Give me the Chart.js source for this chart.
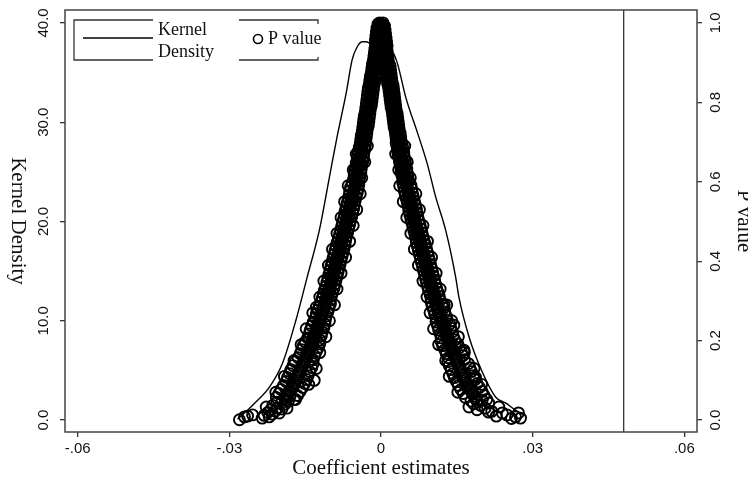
<!DOCTYPE html>
<html>
<head>
<meta charset="utf-8">
<script src="https://cdn.jsdelivr.net/npm/chart.js@4.4.0/dist/chart.umd.min.js"></script>
<style>
  html, body { margin: 0; padding: 0; background: #fff; }
  #wrap { width: 748px; height: 486px; }
</style>
</head>
<body>
<div id="wrap"><canvas id="chart"></canvas></div>
<script>
// Kernel density of the coefficient estimates (left axis)
const kdeX = [-0.0284, -0.0264, -0.0250, -0.0221, -0.0195, -0.0168, -0.0146, -0.0122, -0.0103, -0.0087,
              -0.0069, -0.0057, -0.0047, -0.0037, -0.0030, -0.0020, -0.0008, 0.0006, 0.0020, 0.0032,
              0.0049, 0.0073, 0.0091, 0.0108, 0.0128, 0.0148, 0.0154, 0.0174, 0.0199, 0.0227,
              0.0247, 0.0266, 0.0284];
const kdeY = [0.1, 1.0, 1.7, 3.3, 5.7, 10.1, 14.4, 19.1, 24.2, 28.5,
              32.9, 36.3, 37.6, 38.1, 38.1, 37.9, 37.6, 37.5, 37.3, 36.0,
              32.5, 28.8, 25.9, 22.5, 19.1, 14.3, 12.4, 8.4, 5.0, 2.3,
              1.7, 1.0, 0.5];

// P values against coefficient estimates (right axis): [coef, p]
// left branch: middle of the band, its outer and inner edge
const pLeftCore = [
  [-0.0003,1.000],[-0.0004,0.995],[-0.0004,0.990],[-0.0005,0.985],[-0.0005,0.980],[-0.0006,0.975],[-0.0006,0.970],[-0.0007,0.965],
  [-0.0007,0.960],[-0.0008,0.955],[-0.0008,0.950],[-0.0009,0.945],[-0.0009,0.940],[-0.0010,0.935],[-0.0009,0.930],[-0.0011,0.925],
  [-0.0010,0.920],[-0.0012,0.915],[-0.0011,0.910],[-0.0013,0.905],[-0.0012,0.900],[-0.0014,0.895],[-0.0013,0.890],[-0.0015,0.885],
  [-0.0014,0.880],[-0.0016,0.875],[-0.0015,0.870],[-0.0017,0.865],[-0.0016,0.860],[-0.0018,0.855],[-0.0017,0.850],[-0.0019,0.845],
  [-0.0019,0.840],[-0.0020,0.835],[-0.0020,0.830],[-0.0021,0.825],[-0.0021,0.820],[-0.0022,0.815],[-0.0022,0.810],[-0.0023,0.805],
  [-0.0023,0.800],[-0.0024,0.795],[-0.0024,0.790],[-0.0026,0.785],[-0.0026,0.780],[-0.0027,0.775],[-0.0027,0.770],[-0.0029,0.765],
  [-0.0028,0.760],[-0.0030,0.755],[-0.0029,0.750],[-0.0031,0.745],[-0.0030,0.740],[-0.0032,0.735],[-0.0031,0.730],[-0.0034,0.725],
  [-0.0033,0.720],[-0.0035,0.715],[-0.0034,0.710],[-0.0036,0.705],[-0.0035,0.700],[-0.0037,0.695],[-0.0037,0.690],[-0.0039,0.685],
  [-0.0038,0.680],[-0.0040,0.675],[-0.0039,0.670],[-0.0041,0.665],[-0.0041,0.660],[-0.0043,0.655],[-0.0042,0.650],[-0.0044,0.645],
  [-0.0044,0.640],[-0.0046,0.635],[-0.0045,0.630],[-0.0047,0.625],[-0.0046,0.620],[-0.0048,0.615],[-0.0048,0.610],[-0.0050,0.605],
  [-0.0049,0.600],[-0.0051,0.595],[-0.0051,0.590],[-0.0053,0.585],[-0.0053,0.580],[-0.0055,0.575],[-0.0055,0.570],[-0.0057,0.565],
  [-0.0056,0.560],[-0.0059,0.555],[-0.0058,0.550],[-0.0061,0.545],[-0.0060,0.540],[-0.0063,0.535],[-0.0062,0.530],[-0.0064,0.525],
  [-0.0064,0.520],[-0.0066,0.515],[-0.0065,0.510],[-0.0068,0.505],[-0.0067,0.500],[-0.0070,0.495],[-0.0069,0.490],[-0.0072,0.485],
  [-0.0071,0.480],[-0.0074,0.475],[-0.0073,0.470],[-0.0076,0.465],[-0.0075,0.460],[-0.0078,0.455],[-0.0077,0.450],[-0.0080,0.445],
  [-0.0079,0.440],[-0.0082,0.435],[-0.0081,0.430],[-0.0084,0.425],[-0.0083,0.420],[-0.0086,0.415],[-0.0085,0.410],[-0.0088,0.405],
  [-0.0087,0.400],[-0.0090,0.395],[-0.0089,0.390],[-0.0092,0.385],[-0.0091,0.380],[-0.0094,0.375],[-0.0094,0.370],[-0.0096,0.365],
  [-0.0096,0.360],[-0.0098,0.355],[-0.0098,0.350],[-0.0100,0.345],[-0.0100,0.340],[-0.0102,0.335],[-0.0102,0.330],[-0.0105,0.325],
  [-0.0104,0.320],[-0.0107,0.315],[-0.0106,0.310],[-0.0109,0.305],[-0.0108,0.300],[-0.0111,0.295],[-0.0111,0.290],[-0.0114,0.285],
  [-0.0113,0.280],[-0.0116,0.275],[-0.0116,0.270],[-0.0119,0.265],[-0.0118,0.260],[-0.0121,0.255],[-0.0121,0.250],[-0.0124,0.245],
  [-0.0123,0.240],[-0.0126,0.235],[-0.0126,0.230],[-0.0129,0.225],[-0.0128,0.220],[-0.0131,0.215],[-0.0131,0.210],[-0.0134,0.205],
  [-0.0133,0.200],[-0.0137,0.195],[-0.0136,0.190],[-0.0140,0.185],[-0.0140,0.180],[-0.0143,0.175],[-0.0143,0.170],[-0.0147,0.165],
  [-0.0146,0.160],[-0.0150,0.155],[-0.0150,0.150],[-0.0154,0.145],[-0.0153,0.140],[-0.0157,0.135],[-0.0157,0.130],[-0.0161,0.125],
  [-0.0160,0.120],[-0.0164,0.115],[-0.0163,0.110],[-0.0167,0.105],[-0.0167,0.100],[-0.0172,0.095],[-0.0171,0.090],[-0.0176,0.085],
  [-0.0175,0.080],[-0.0181,0.075],[-0.0180,0.070],[-0.0185,0.065],[-0.0185,0.060],[-0.0190,0.055],[-0.0189,0.050]
];
const pLeftOuter = [
  [-0.0006,0.997],[-0.0008,0.987],[-0.0009,0.977],[-0.0010,0.967],[-0.0011,0.957],[-0.0011,0.947],[-0.0012,0.937],[-0.0013,0.927],
  [-0.0014,0.917],[-0.0015,0.907],[-0.0017,0.897],[-0.0018,0.887],[-0.0019,0.877],[-0.0021,0.867],[-0.0022,0.857],[-0.0023,0.847],
  [-0.0025,0.837],[-0.0026,0.827],[-0.0027,0.817],[-0.0028,0.807],[-0.0029,0.797],[-0.0030,0.787],[-0.0031,0.777],[-0.0033,0.767],
  [-0.0034,0.757],[-0.0035,0.747],[-0.0036,0.737],[-0.0037,0.727],[-0.0039,0.717],[-0.0040,0.707],[-0.0041,0.697],[-0.0043,0.687],
  [-0.0045,0.677],[-0.0046,0.667],[-0.0047,0.657],[-0.0049,0.647],[-0.0050,0.637],[-0.0052,0.627],[-0.0053,0.617],[-0.0054,0.607],
  [-0.0057,0.597],[-0.0060,0.587],[-0.0062,0.577],[-0.0063,0.567],[-0.0065,0.557],[-0.0067,0.547],[-0.0069,0.537],[-0.0071,0.527],
  [-0.0072,0.517],[-0.0074,0.507],[-0.0076,0.497],[-0.0078,0.487],[-0.0080,0.477],[-0.0082,0.467],[-0.0084,0.457],[-0.0087,0.447],
  [-0.0089,0.437],[-0.0091,0.427],[-0.0093,0.417],[-0.0095,0.407],[-0.0097,0.397],[-0.0099,0.387],[-0.0101,0.377],[-0.0103,0.367],
  [-0.0105,0.357],[-0.0107,0.347],[-0.0109,0.337],[-0.0112,0.327],[-0.0114,0.317],[-0.0116,0.307],[-0.0119,0.297],[-0.0122,0.287],
  [-0.0125,0.277],[-0.0128,0.267],[-0.0130,0.257],[-0.0134,0.247],[-0.0137,0.237],[-0.0140,0.227],[-0.0142,0.217],[-0.0145,0.207],
  [-0.0150,0.197],[-0.0154,0.187],[-0.0157,0.177],[-0.0160,0.167],[-0.0164,0.157],[-0.0170,0.147],[-0.0174,0.137],[-0.0178,0.127],
  [-0.0181,0.117],[-0.0185,0.107],[-0.0188,0.097],[-0.0193,0.087],[-0.0198,0.077],[-0.0202,0.067],[-0.0207,0.057]
];
const pLeftInner = [
  [-0.0001,0.992],[-0.0002,0.982],[-0.0003,0.972],[-0.0004,0.962],[-0.0005,0.952],[-0.0005,0.942],[-0.0006,0.932],[-0.0007,0.922],
  [-0.0008,0.912],[-0.0009,0.902],[-0.0008,0.892],[-0.0009,0.882],[-0.0010,0.872],[-0.0011,0.862],[-0.0012,0.852],[-0.0014,0.842],
  [-0.0015,0.832],[-0.0016,0.822],[-0.0017,0.812],[-0.0018,0.802],[-0.0019,0.792],[-0.0021,0.782],[-0.0022,0.772],[-0.0023,0.762],
  [-0.0024,0.752],[-0.0025,0.742],[-0.0027,0.732],[-0.0028,0.722],[-0.0029,0.712],[-0.0030,0.702],[-0.0031,0.692],[-0.0032,0.682],
  [-0.0034,0.672],[-0.0035,0.662],[-0.0036,0.652],[-0.0038,0.642],[-0.0039,0.632],[-0.0040,0.622],[-0.0042,0.612],[-0.0043,0.602],
  [-0.0044,0.592],[-0.0045,0.582],[-0.0047,0.572],[-0.0049,0.562],[-0.0051,0.552],[-0.0053,0.542],[-0.0054,0.532],[-0.0056,0.522],
  [-0.0058,0.512],[-0.0060,0.502],[-0.0062,0.492],[-0.0064,0.482],[-0.0066,0.472],[-0.0068,0.462],[-0.0070,0.452],[-0.0071,0.442],
  [-0.0073,0.432],[-0.0075,0.422],[-0.0077,0.412],[-0.0079,0.402],[-0.0081,0.392],[-0.0083,0.382],[-0.0085,0.372],[-0.0087,0.362],
  [-0.0089,0.352],[-0.0091,0.342],[-0.0093,0.332],[-0.0096,0.322],[-0.0098,0.312],[-0.0100,0.302],[-0.0100,0.292],[-0.0103,0.282],
  [-0.0105,0.272],[-0.0108,0.262],[-0.0110,0.252],[-0.0111,0.242],[-0.0113,0.232],[-0.0116,0.222],[-0.0118,0.212],[-0.0121,0.202],
  [-0.0121,0.192],[-0.0124,0.182],[-0.0128,0.172],[-0.0131,0.162],[-0.0134,0.152],[-0.0134,0.142],[-0.0137,0.132],[-0.0141,0.122],
  [-0.0144,0.112],[-0.0147,0.102],[-0.0151,0.092],[-0.0155,0.082],[-0.0160,0.072],[-0.0165,0.062],[-0.0169,0.052]
];
const pLeftWide = [
  [-0.0027,0.69],[-0.0049,0.67],[-0.0032,0.65],[-0.0055,0.63],[-0.0038,0.61],[-0.0065,0.59],[-0.0041,0.57],[-0.0072,0.55],
  [-0.0048,0.53],[-0.0079,0.51],[-0.0055,0.49],[-0.0087,0.47],[-0.0062,0.45],[-0.0096,0.43],[-0.0070,0.41],[-0.0104,0.39],
  [-0.0079,0.37],[-0.0113,0.35],[-0.0087,0.33],[-0.0121,0.31],[-0.0092,0.29],[-0.0135,0.27],[-0.0102,0.25],[-0.0148,0.23],
  [-0.0109,0.21],[-0.0158,0.19],[-0.0121,0.17],[-0.0172,0.15],[-0.0128,0.13],[-0.0191,0.11],[-0.0143,0.09],[-0.0208,0.07]
];
// right branch: middle of the band, its outer and inner edge
const pRightCore = [
  [0.0004,1.000],[0.0003,0.995],[0.0005,0.990],[0.0004,0.985],[0.0006,0.980],[0.0005,0.975],[0.0007,0.970],[0.0006,0.965],
  [0.0008,0.960],[0.0007,0.955],[0.0009,0.950],[0.0007,0.945],[0.0010,0.940],[0.0008,0.935],[0.0010,0.930],[0.0009,0.925],
  [0.0011,0.920],[0.0010,0.915],[0.0012,0.910],[0.0011,0.905],[0.0013,0.900],[0.0012,0.895],[0.0014,0.890],[0.0013,0.885],
  [0.0015,0.880],[0.0014,0.875],[0.0016,0.870],[0.0015,0.865],[0.0017,0.860],[0.0016,0.855],[0.00185,0.850],[0.0017,0.845],
  [0.0020,0.840],[0.00185,0.835],[0.0021,0.830],[0.00195,0.825],[0.0022,0.820],[0.00205,0.815],[0.0023,0.810],[0.00215,0.805],
  [0.0024,0.800],[0.00225,0.795],[0.0025,0.790],[0.0024,0.785],[0.00265,0.780],[0.0025,0.775],[0.0028,0.770],[0.00265,0.765],
  [0.0029,0.760],[0.00275,0.755],[0.0030,0.750],[0.00285,0.745],[0.0031,0.740],[0.0030,0.735],[0.00325,0.730],[0.0031,0.725],
  [0.0034,0.720],[0.00325,0.715],[0.0035,0.710],[0.00335,0.705],[0.0036,0.700],[0.00345,0.695],[0.00375,0.690],[0.0036,0.685],
  [0.0039,0.680],[0.00375,0.675],[0.0040,0.670],[0.0039,0.665],[0.00415,0.660],[0.0040,0.655],[0.0043,0.650],[0.00415,0.645],
  [0.00445,0.640],[0.0043,0.635],[0.0046,0.630],[0.00445,0.625],[0.0047,0.620],[0.0046,0.615],[0.00485,0.610],[0.0047,0.605],
  [0.0050,0.600],[0.0049,0.595],[0.0052,0.590],[0.0051,0.585],[0.0054,0.580],[0.0053,0.575],[0.00555,0.570],[0.0054,0.565],
  [0.0057,0.560],[0.0056,0.555],[0.0059,0.550],[0.0058,0.545],[0.0061,0.540],[0.0060,0.535],[0.0063,0.530],[0.0062,0.525],
  [0.00645,0.520],[0.0063,0.515],[0.0066,0.510],[0.0065,0.505],[0.0068,0.500],[0.0067,0.495],[0.0070,0.490],[0.0069,0.485],
  [0.0072,0.480],[0.0071,0.475],[0.0074,0.470],[0.0073,0.465],[0.0076,0.460],[0.0075,0.455],[0.0078,0.450],[0.0077,0.445],
  [0.0080,0.440],[0.0079,0.435],[0.0082,0.430],[0.0081,0.425],[0.0084,0.420],[0.0083,0.415],[0.0086,0.410],[0.0085,0.405],
  [0.0088,0.400],[0.0087,0.395],[0.0090,0.390],[0.0089,0.385],[0.0092,0.380],[0.0091,0.375],[0.00945,0.370],[0.00935,0.365],
  [0.00965,0.360],[0.00955,0.355],[0.00985,0.350],[0.00975,0.345],[0.01005,0.340],[0.00995,0.335],[0.01025,0.330],[0.0102,0.325],
  [0.0105,0.320],[0.0104,0.315],[0.0107,0.310],[0.0106,0.305],[0.0109,0.300],[0.0108,0.295],[0.01115,0.290],[0.0111,0.285],
  [0.0114,0.280],[0.0113,0.275],[0.01165,0.270],[0.0116,0.265],[0.0119,0.260],[0.0118,0.255],[0.01215,0.250],[0.0121,0.245],
  [0.0124,0.240],[0.0123,0.235],[0.01265,0.230],[0.0126,0.225],[0.0129,0.220],[0.0128,0.215],[0.01315,0.210],[0.0131,0.205],
  [0.0134,0.200],[0.01335,0.195],[0.0137,0.190],[0.0137,0.185],[0.01405,0.180],[0.0140,0.175],[0.0144,0.170],[0.01435,0.165],
  [0.0147,0.160],[0.0147,0.155],[0.01505,0.150],[0.0150,0.145],[0.0154,0.140],[0.01535,0.135],[0.0157,0.130],[0.0157,0.125],
  [0.01605,0.120],[0.0160,0.115],[0.0164,0.110],[0.01635,0.105],[0.0167,0.100],[0.0167,0.095],[0.01715,0.090],[0.0172,0.085],
  [0.0176,0.080],[0.01765,0.075],[0.0181,0.070],[0.0181,0.065],[0.01855,0.060],[0.0186,0.055],[0.0190,0.050]
];
const pRightOuter = [
  [0.0007,0.992],[0.0008,0.982],[0.0009,0.972],[0.0010,0.962],[0.0011,0.952],[0.0012,0.942],[0.0012,0.932],[0.0013,0.922],
  [0.0014,0.912],[0.0015,0.902],[0.0018,0.892],[0.0019,0.882],[0.0020,0.872],[0.0021,0.862],[0.0022,0.852],[0.0024,0.842],
  [0.0025,0.832],[0.0026,0.822],[0.0027,0.812],[0.0028,0.802],[0.0029,0.792],[0.0030,0.782],[0.0032,0.772],[0.0033,0.762],
  [0.0034,0.752],[0.0035,0.742],[0.0036,0.732],[0.0038,0.722],[0.0039,0.712],[0.0040,0.702],[0.0042,0.692],[0.0044,0.682],
  [0.0045,0.672],[0.0046,0.662],[0.0048,0.652],[0.0049,0.642],[0.0051,0.632],[0.0052,0.622],[0.0053,0.612],[0.0055,0.602],
  [0.0059,0.592],[0.0061,0.582],[0.0062,0.572],[0.0064,0.562],[0.0066,0.552],[0.0068,0.542],[0.0070,0.532],[0.0071,0.522],
  [0.0073,0.512],[0.0075,0.502],[0.0077,0.492],[0.0079,0.482],[0.0081,0.472],[0.0083,0.462],[0.0085,0.452],[0.0088,0.442],
  [0.0090,0.432],[0.0092,0.422],[0.0094,0.412],[0.0096,0.402],[0.0098,0.392],[0.0100,0.382],[0.0102,0.372],[0.0104,0.362],
  [0.0106,0.352],[0.0108,0.342],[0.0110,0.332],[0.0113,0.322],[0.0115,0.312],[0.0117,0.302],[0.0121,0.292],[0.0124,0.282],
  [0.0126,0.272],[0.0129,0.262],[0.0131,0.252],[0.0136,0.242],[0.0138,0.232],[0.0141,0.222],[0.0143,0.212],[0.0146,0.202],
  [0.0152,0.192],[0.0155,0.182],[0.0159,0.172],[0.0162,0.162],[0.0165,0.152],[0.0173,0.142],[0.0176,0.132],[0.0179,0.122],
  [0.0183,0.112],[0.0186,0.102],[0.0190,0.092],[0.0195,0.082],[0.0200,0.072],[0.0204,0.062],[0.0209,0.052]
];
const pRightInner = [
  [0.0001,0.997],[0.0002,0.987],[0.0003,0.977],[0.0004,0.967],[0.0005,0.957],[0.0006,0.947],[0.0006,0.937],[0.0007,0.927],
  [0.0008,0.917],[0.0009,0.907],[0.0008,0.897],[0.0009,0.887],[0.0010,0.877],[0.0011,0.867],[0.0012,0.857],[0.0013,0.847],
  [0.0015,0.837],[0.0016,0.827],[0.0017,0.817],[0.0018,0.807],[0.0019,0.797],[0.0020,0.787],[0.0022,0.777],[0.0023,0.767],
  [0.0024,0.757],[0.0025,0.747],[0.0026,0.737],[0.0028,0.727],[0.0029,0.717],[0.0030,0.707],[0.0030,0.697],[0.0032,0.687],
  [0.0033,0.677],[0.0034,0.667],[0.0036,0.657],[0.0037,0.647],[0.0039,0.637],[0.0040,0.627],[0.0041,0.617],[0.0043,0.607],
  [0.0043,0.597],[0.0045,0.587],[0.0046,0.577],[0.0048,0.567],[0.0050,0.557],[0.0052,0.547],[0.0054,0.537],[0.0055,0.527],
  [0.0057,0.517],[0.0059,0.507],[0.0061,0.497],[0.0063,0.487],[0.0065,0.477],[0.0067,0.467],[0.0069,0.457],[0.0070,0.447],
  [0.0072,0.437],[0.0074,0.427],[0.0076,0.417],[0.0078,0.407],[0.0080,0.397],[0.0082,0.387],[0.0084,0.377],[0.0086,0.367],
  [0.0088,0.357],[0.0090,0.347],[0.0092,0.337],[0.0094,0.327],[0.0097,0.317],[0.0099,0.307],[0.0099,0.297],[0.0101,0.287],
  [0.0104,0.277],[0.0106,0.267],[0.0109,0.257],[0.0109,0.247],[0.0112,0.237],[0.0114,0.227],[0.0117,0.217],[0.0119,0.207],
  [0.0119,0.197],[0.0122,0.187],[0.0126,0.177],[0.0129,0.167],[0.0133,0.157],[0.0132,0.147],[0.0135,0.137],[0.0139,0.127],
  [0.0142,0.117],[0.0145,0.107],[0.0149,0.097],[0.0153,0.087],[0.0158,0.077],[0.0163,0.067],[0.0167,0.057]
];
const pRightWide = [
  [0.0047,0.69],[0.0029,0.67],[0.0052,0.65],[0.0035,0.63],[0.0058,0.61],[0.0037,0.59],[0.0069,0.57],[0.0044,0.55],
  [0.0076,0.53],[0.0051,0.51],[0.0083,0.49],[0.0059,0.47],[0.0092,0.45],[0.0066,0.43],[0.0100,0.41],[0.0074,0.39],
  [0.0109,0.37],[0.0083,0.35],[0.0117,0.33],[0.0091,0.31],[0.0130,0.29],[0.0097,0.27],[0.0140,0.25],[0.0104,0.23],
  [0.0153,0.21],[0.0114,0.19],[0.0165,0.17],[0.0128,0.15],[0.0184,0.13],[0.0135,0.11],[0.0199,0.09],[0.0152,0.07]
];
// scattered circles in both tails and off the band
const pTailLeft = [
  [-0.0206,0.045],[-0.0198,0.041],[-0.0214,0.037],[-0.0227,0.033],[-0.0205,0.030],[-0.0218,0.026],[-0.0209,0.023],
  [-0.0224,0.019],[-0.0215,0.015],[-0.0231,0.012],[-0.0221,0.008],[-0.0235,0.005],[-0.0254,0.013],[-0.0264,0.010],
  [-0.0270,0.008],[-0.0280,0.001],[-0.0180,0.060],[-0.0172,0.052],[-0.0190,0.040],[-0.0183,0.048],[-0.0196,0.028],
  [-0.0201,0.018],[-0.0186,0.030]
];
const pTailRight = [
  [0.0191,0.045],[0.0183,0.041],[0.0213,0.043],[0.0197,0.037],[0.0174,0.033],[0.0233,0.033],[0.0206,0.030],
  [0.0190,0.026],[0.0219,0.022],[0.0213,0.020],[0.0240,0.018],[0.0272,0.018],[0.0249,0.013],[0.0228,0.010],
  [0.0266,0.008],[0.0276,0.005],[0.0258,0.004],[0.0178,0.048],[0.0200,0.050]
];
const pStray = [
  [-0.0128,0.284],[-0.0142,0.206],[-0.0178,0.126],[-0.0132,0.100],[-0.0100,0.330],
  [0.0144,0.239],[0.0164,0.176],[0.0187,0.108],[0.0148,0.184],[0.0125,0.290]
];

// Vertical reference line
const refLine = 0.048;

// Axis ticks and labels
const xTicks = [-0.06, -0.03, 0, 0.03, 0.06];
const xTickLabels = ['-.06', '-.03', '0', '.03', '.06'];
const yTicks = [0, 10, 20, 30, 40];
const yTickLabels = ['0.0', '10.0', '20.0', '30.0', '40.0'];
const y1Ticks = [0, 0.2, 0.4, 0.6, 0.8, 1.0];
const y1TickLabels = ['0.0', '0.2', '0.4', '0.6', '0.8', '1.0'];

const serif = '"Liberation Serif", "Times New Roman", serif';
const sans = '"Liberation Sans", Arial, sans-serif';
const ink = '#111';

const pvalues = [].concat(pLeftCore, pLeftOuter, pLeftInner, pLeftWide,
                          pRightCore, pRightOuter, pRightInner, pRightWide,
                          pTailLeft, pTailRight, pStray);

// Frame, reference line, rotated labels, titles and legend
const decorPlugin = {
    id: 'decor',
    beforeDatasetsDraw(chart) {
        const { ctx, chartArea: a, scales } = chart;
        const px = scales.x.getPixelForValue(refLine);
        ctx.save();
        ctx.strokeStyle = '#333';
        ctx.lineWidth = 1.3;
        ctx.beginPath();
        ctx.moveTo(px, a.top);
        ctx.lineTo(px, a.bottom);
        ctx.stroke();
        ctx.restore();
    },
    afterDraw(chart) {
        const { ctx, chartArea: a, scales } = chart;
        ctx.save();

        // plot frame
        ctx.strokeStyle = '#444';
        ctx.lineWidth = 1.5;
        ctx.strokeRect(a.left, a.top, a.right - a.left, a.bottom - a.top);

        // rotated y tick labels
        ctx.fillStyle = ink;
        ctx.font = '15px ' + sans;
        ctx.textAlign = 'center';
        ctx.textBaseline = 'middle';
        yTicks.forEach((v, i) => {
            const py = scales.y.getPixelForValue(v);
            ctx.save();
            ctx.translate(44, py);
            ctx.rotate(-Math.PI / 2);
            ctx.fillText(yTickLabels[i], 0, 0);
            ctx.restore();
        });
        y1Ticks.forEach((v, i) => {
            const py = scales.y1.getPixelForValue(v);
            ctx.save();
            ctx.translate(716, py);
            ctx.rotate(-Math.PI / 2);
            ctx.fillText(y1TickLabels[i], 0, 0);
            ctx.restore();
        });

        // axis titles
        const midY = (a.top + a.bottom) / 2;
        const midX = (a.left + a.right) / 2;
        ctx.font = '21px ' + serif;
        ctx.save();
        ctx.translate(18, midY);
        ctx.rotate(Math.PI / 2);
        ctx.fillText('Kernel Density', 0, 0);
        ctx.restore();
        ctx.save();
        ctx.translate(744, midY);
        ctx.rotate(Math.PI / 2);
        ctx.fillText('P value', 0, 0);
        ctx.restore();
        ctx.fillText('Coefficient estimates', midX, 468);

        // legend
        ctx.strokeStyle = '#333';
        ctx.lineWidth = 1.3;
        ctx.beginPath();
        ctx.moveTo(153, 20); ctx.lineTo(74, 20); ctx.lineTo(74, 60); ctx.lineTo(153, 60);
        ctx.moveTo(239, 20); ctx.lineTo(318, 20); ctx.lineTo(318, 24);
        ctx.moveTo(239, 60); ctx.lineTo(318, 60); ctx.lineTo(318, 57);
        ctx.stroke();
        ctx.strokeStyle = '#000';
        ctx.lineWidth = 1.6;
        ctx.beginPath();
        ctx.moveTo(83, 38); ctx.lineTo(153, 38);
        ctx.stroke();
        ctx.lineWidth = 1.6;
        ctx.beginPath();
        ctx.arc(258, 39, 4.5, 0, Math.PI * 2);
        ctx.stroke();
        ctx.font = '18px ' + serif;
        ctx.textAlign = 'left';
        ctx.fillText('Kernel', 158, 30);
        ctx.fillText('Density', 158, 52);
        ctx.fillText('P value', 268, 39);

        ctx.restore();
    }
};

new Chart(document.getElementById('chart'), {
    type: 'scatter',
    data: {
        datasets: [
            {
                type: 'scatter',
                label: 'P value',
                data: pvalues.map(d => ({ x: d[0], y: d[1] })),
                yAxisID: 'y1',
                pointStyle: 'circle',
                pointRadius: 5.5,
                pointBorderWidth: 1.9,
                pointBorderColor: '#000',
                pointBackgroundColor: 'rgba(0,0,0,0)',
                order: 0
            },
            {
                type: 'line',
                label: 'Kernel Density',
                data: kdeX.map((x, i) => ({ x: x, y: kdeY[i] })),
                yAxisID: 'y',
                borderColor: '#000',
                borderWidth: 1.4,
                pointRadius: 0,
                fill: false,
                cubicInterpolationMode: 'monotone',
                order: 1
            }
        ]
    },
    options: {
        responsive: true,
        maintainAspectRatio: false,
        animation: false,
        events: [],
        layout: { padding: { top: 10, left: 0, right: 0, bottom: 0 } },
        plugins: {
            legend: { display: false },
            tooltip: { enabled: false }
        },
        scales: {
            x: {
                type: 'linear',
                min: -0.0625,
                max: 0.0625,
                afterBuildTicks: s => { s.ticks = xTicks.map(v => ({ value: v })); },
                afterFit: s => { s.height = 54; },
                border: { display: false },
                grid: { drawOnChartArea: false, drawTicks: true, tickLength: 5, color: '#333', lineWidth: 1.3 },
                ticks: {
                    color: ink,
                    padding: 3,
                    maxRotation: 0,
                    font: { family: sans, size: 15 },
                    callback: (v) => {
                        const i = xTicks.findIndex(t => Math.abs(t - v) < 1e-9);
                        return i >= 0 ? xTickLabels[i] : '';
                    }
                }
            },
            y: {
                type: 'linear',
                position: 'left',
                min: -1.2,
                max: 41.3,
                afterBuildTicks: s => { s.ticks = yTicks.map(v => ({ value: v })); },
                afterFit: s => { s.width = 65; },
                border: { display: false },
                grid: { drawOnChartArea: false, drawTicks: true, tickLength: 5, color: '#333', lineWidth: 1.3 },
                ticks: { display: false }
            },
            y1: {
                type: 'linear',
                position: 'right',
                min: -0.03,
                max: 1.0325,
                afterBuildTicks: s => { s.ticks = y1Ticks.map(v => ({ value: v })); },
                afterFit: s => { s.width = 51; },
                border: { display: false },
                grid: { drawOnChartArea: false, drawTicks: true, tickLength: 5, color: '#333', lineWidth: 1.3 },
                ticks: { display: false }
            }
        }
    },
    plugins: [decorPlugin]
});
</script>
</body>
</html>
